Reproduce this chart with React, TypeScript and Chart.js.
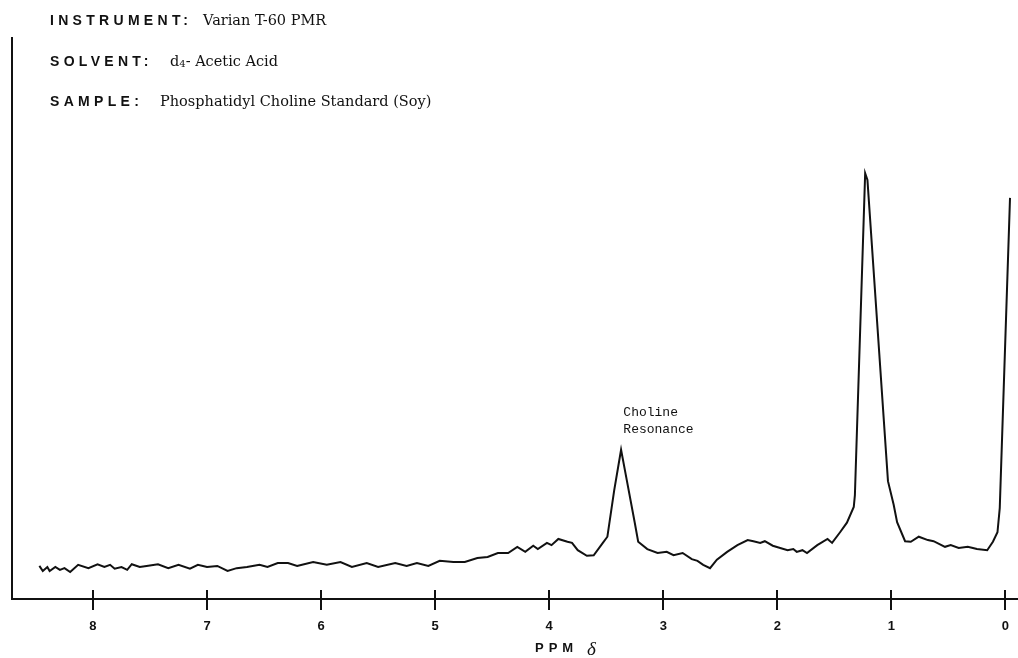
import { useEffect, useRef } from "react";
import { Chart, registerables } from "chart.js";

Chart.register(...registerables);

// Chemical shift (ppm, delta) of each traced point, left (high ppm) to right
const PPM = [
  8.47, 8.44, 8.4, 8.38, 8.33, 8.29, 8.25, 8.2, 8.13, 8.04, 7.96, 7.9, 7.85, 7.81, 7.75, 7.7,
  7.66, 7.59, 7.53, 7.43, 7.34, 7.25, 7.15, 7.08, 7.0, 6.91, 6.82, 6.74, 6.65, 6.54, 6.47, 6.38,
  6.29, 6.21, 6.07, 5.95, 5.83, 5.73, 5.6, 5.5, 5.35, 5.25, 5.16, 5.06, 4.96, 4.84, 4.74, 4.63,
  4.54, 4.45, 4.36, 4.28, 4.21, 4.14, 4.1, 4.02, 3.98, 3.92, 3.84, 3.8, 3.75, 3.67, 3.61, 3.53,
  3.49, 3.43, 3.37, 3.32, 3.25, 3.22, 3.14, 3.05, 2.97, 2.91, 2.83, 2.75, 2.7, 2.65, 2.59, 2.53,
  2.44, 2.35, 2.26, 2.21, 2.15, 2.11, 2.04, 1.91, 1.86, 1.83, 1.78, 1.74, 1.65, 1.56, 1.52, 1.45,
  1.39, 1.33, 1.32, 1.23, 1.21, 1.03, 0.98, 0.95, 0.88, 0.83, 0.76, 0.68, 0.63, 0.53, 0.48, 0.41,
  0.33, 0.25, 0.16, 0.11, 0.07, 0.05, -0.04,
];

// Recorder signal (arbitrary units, 0 = axis line)
const INTENSITY = [
  5.9, 5.0, 5.7, 5.0, 5.7, 5.2, 5.5, 4.8, 6.1, 5.5, 6.2, 5.7, 6.1, 5.4, 5.7, 5.2,
  6.2, 5.7, 5.9, 6.2, 5.5, 6.1, 5.4, 6.1, 5.7, 5.9, 5.0, 5.5, 5.7, 6.1, 5.7, 6.4,
  6.4, 5.9, 6.6, 6.1, 6.6, 5.7, 6.4, 5.7, 6.4, 5.9, 6.4, 5.9, 6.8, 6.6, 6.6, 7.3,
  7.5, 8.2, 8.2, 9.3, 8.4, 9.5, 8.9, 10.0, 9.6, 10.7, 10.2, 10.0, 8.7, 7.7, 7.8, 10.0,
  11.1, 19.4, 26.6, 21.2, 13.6, 10.2, 8.9, 8.2, 8.4, 7.8, 8.2, 7.1, 6.8, 6.1, 5.5, 7.0,
  8.4, 9.6, 10.5, 10.3, 10.0, 10.3, 9.5, 8.7, 8.9, 8.4, 8.7, 8.2, 9.6, 10.7, 10.0, 11.9,
  13.6, 16.4, 18.5, 75.9, 74.7, 21.0, 16.8, 13.7, 10.3, 10.2, 11.1, 10.5, 10.3, 9.3, 9.6, 9.1,
  9.3, 8.9, 8.7, 10.2, 11.9, 16.2, 71.5,
];

const TICK_PPM = [8, 7, 6, 5, 4, 3, 2, 1, 0];
const X_MIN = -0.11;
const X_MAX = 8.71;
const Y_MIN = 0;
const Y_MAX = 100;

const HEADER_LABELS = ["INSTRUMENT:", "SOLVENT:", "SAMPLE:"];
const HEADER_VALUES = ["Varian T-60 PMR", "- Acetic Acid", "Phosphatidyl Choline Standard (Soy)"];
const SOLVENT_PREFIX = "d";
const SOLVENT_SUB = "4";
const ANNOTATION_LINES = ["Choline", "Resonance"];
const ANNOTATION_PPM = 3.35;
const ANNOTATION_INTENSITY = 33.2;
const AXIS_TITLE = "PPM";
const AXIS_SYMBOL = "δ";

const INK = "#111111";
const VALUE_FONT = "14.5px 'DejaVu Serif', 'Liberation Serif', serif";

const decorPlugin = {
  id: "decor",
  afterDraw(chart: any) {
    const ctx = chart.ctx as CanvasRenderingContext2D;
    const xs = chart.scales.x;
    const ys = chart.scales.y;
    const area = chart.chartArea;
    ctx.save();
    // tick marks crossing the baseline
    ctx.strokeStyle = INK;
    ctx.lineWidth = 2;
    TICK_PPM.forEach((v) => {
      const px = Math.round(xs.getPixelForValue(v));
      ctx.beginPath();
      ctx.moveTo(px, area.bottom - 9);
      ctx.lineTo(px, area.bottom + 11);
      ctx.stroke();
    });

    // header block
    ctx.fillStyle = INK;
    ctx.textBaseline = "middle";
    ctx.textAlign = "left";
    const rowsY = [21, 62, 102];
    const valueX = [203, 170, 160];
    HEADER_LABELS.forEach((lab, i) => {
      ctx.font = "bold 14px 'Liberation Sans', Arial, sans-serif";
      (ctx as any).letterSpacing = "4.3px";
      ctx.fillText(lab, 50, rowsY[i]);
      (ctx as any).letterSpacing = "0px";
      ctx.font = VALUE_FONT;
      if (i === 1) {
        ctx.fillText(SOLVENT_PREFIX, valueX[i], rowsY[i]);
        const dw = ctx.measureText(SOLVENT_PREFIX).width;
        ctx.font = "10px 'DejaVu Serif', serif";
        ctx.fillText(SOLVENT_SUB, valueX[i] + dw, rowsY[i] + 2);
        const sw = ctx.measureText(SOLVENT_SUB).width;
        ctx.font = VALUE_FONT;
        ctx.fillText(HEADER_VALUES[i], valueX[i] + dw + sw, rowsY[i]);
      } else {
        ctx.fillText(HEADER_VALUES[i], valueX[i], rowsY[i]);
      }
    });

    // annotation
    ctx.font = "13px 'Liberation Mono', 'Courier New', monospace";
    const ax = xs.getPixelForValue(ANNOTATION_PPM);
    const ay = ys.getPixelForValue(ANNOTATION_INTENSITY);
    ANNOTATION_LINES.forEach((t, i) => ctx.fillText(t, ax, ay + i * 17));

    // axis title
    ctx.font = "bold 13px 'Liberation Sans', Arial, sans-serif";
    (ctx as any).letterSpacing = "5px";
    ctx.fillText(AXIS_TITLE, 535, 648);
    (ctx as any).letterSpacing = "0px";
    ctx.font = "italic 19px 'Liberation Serif', serif";
    ctx.fillText(AXIS_SYMBOL, 587, 650);
    ctx.restore();
  },
};

export default function App() {
  const ref = useRef<HTMLCanvasElement | null>(null);

  useEffect(() => {
    if (!ref.current) return;
    const chart = new Chart(ref.current, {
      type: "line",
      data: {
        datasets: [
          {
            data: PPM.map((x, i) => ({ x, y: INTENSITY[i] })),
            borderColor: INK,
            borderWidth: 2,
            pointRadius: 0,
            tension: 0,
            fill: false,
          },
        ],
      },
      options: {
        animation: false,
        responsive: false,
        parsing: false as any,
        layout: { padding: { top: 38, left: 12, right: 0, bottom: 0 } },
        plugins: { legend: { display: false }, tooltip: { enabled: false }, title: { display: false } },
        scales: {
          x: {
            type: "linear",
            reverse: true,
            min: X_MIN,
            max: X_MAX,
            afterBuildTicks: (s: any) => {
              s.ticks = TICK_PPM.map((v) => ({ value: v }));
            },
            afterFit: (s: any) => {
              s.height = 59;
              s.paddingLeft = 0;
              s.paddingRight = 0;
            },
            grid: { display: false, drawTicks: true, tickLength: 20 },
            border: { display: true, color: INK, width: 2 },
            ticks: {
              color: INK,
              padding: 0,
              maxRotation: 0,
              autoSkip: false,
              font: { family: "'Liberation Sans', Arial, sans-serif", weight: "bold", size: 13 },
            },
          },
          y: {
            type: "linear",
            min: Y_MIN,
            max: Y_MAX,
            afterFit: (s: any) => {
              s.width = 0;
            },
            grid: { display: false, drawTicks: false },
            border: { display: true, color: INK, width: 2 },
            ticks: { display: false },
          },
        },
      },
      plugins: [decorPlugin],
    });
    return () => chart.destroy();
  }, []);

  return (
    <div style={{ position: "absolute", left: 0, top: 0, width: 1018, height: 658, background: "#fff" }}>
      <canvas ref={ref} width={1018} height={658} style={{ display: "block" }} />
    </div>
  );
}
